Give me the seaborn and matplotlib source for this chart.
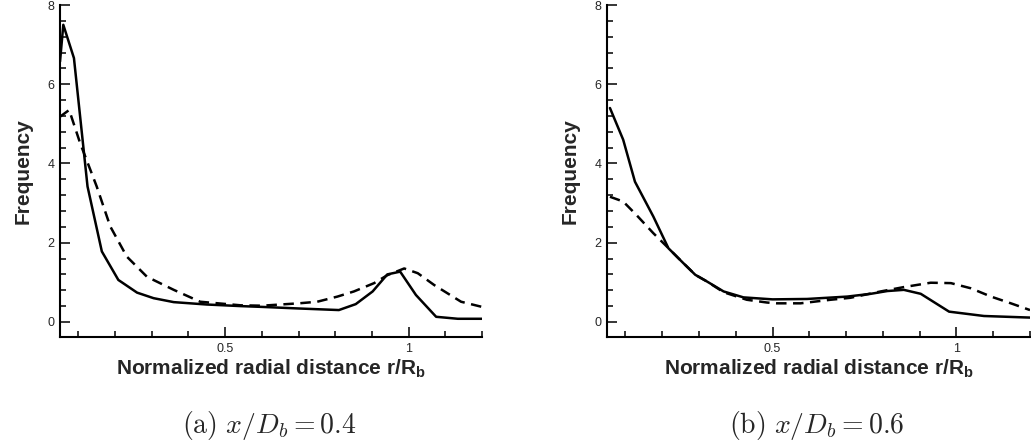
import numpy as np
import pandas as pd
import seaborn as sns
import matplotlib
matplotlib.use("Agg")
import matplotlib.pyplot as plt
from matplotlib.ticker import MultipleLocator, FixedLocator

sns.set_style("ticks")
plt.rcParams["font.family"] = ["Liberation Sans", "DejaVu Sans"]
plt.rcParams["mathtext.fontset"] = "custom"
plt.rcParams["mathtext.rm"] = "Liberation Sans"
plt.rcParams["mathtext.bf"] = "Liberation Sans:bold"

# ---- x/D_b = 0.4 ----
r_a_solid = [0.05, 0.059, 0.088, 0.125, 0.164, 0.209, 0.26, 0.305, 0.36, 0.45,
             0.542, 0.60, 0.70, 0.81, 0.856, 0.902, 0.942, 0.977, 1.02, 1.075,
             1.134, 1.2]
f_a_solid = [6.57, 7.5, 6.66, 3.42, 1.78, 1.06, 0.74, 0.60, 0.50, 0.44,
             0.40, 0.38, 0.34, 0.30, 0.45, 0.77, 1.20, 1.27, 0.68, 0.13,
             0.08, 0.08]
r_a_dash = [0.05, 0.075, 0.105, 0.15, 0.187, 0.232, 0.287, 0.36, 0.432, 0.542,
            0.60, 0.701, 0.751, 0.806, 0.851, 0.906, 0.942, 0.988, 1.025, 1.07,
            1.143, 1.2]
f_a_dash = [5.18, 5.35, 4.51, 3.42, 2.41, 1.65, 1.14, 0.81, 0.51, 0.42,
            0.41, 0.47, 0.51, 0.64, 0.77, 0.98, 1.18, 1.35, 1.23, 0.93,
            0.51, 0.38]

# ---- x/D_b = 0.6 ----
r_b_solid = [0.058, 0.094, 0.126, 0.176, 0.217, 0.258, 0.29, 0.322, 0.367, 0.421,
             0.50, 0.594, 0.703, 0.767, 0.812, 0.857, 0.903, 0.98, 1.075, 1.2]
f_b_solid = [5.40, 4.60, 3.54, 2.66, 1.86, 1.48, 1.19, 1.02, 0.77, 0.62,
             0.57, 0.58, 0.64, 0.71, 0.78, 0.81, 0.71, 0.26, 0.15, 0.11]
r_b_dash = [0.058, 0.094, 0.13, 0.176, 0.213, 0.244, 0.29, 0.322, 0.367, 0.43,
            0.485, 0.512, 0.576, 0.658, 0.712, 0.794, 0.857, 0.93, 0.985, 1.039,
            1.094, 1.148, 1.2]
f_b_dash = [3.16, 3.04, 2.70, 2.24, 1.90, 1.61, 1.19, 1.02, 0.75, 0.56,
            0.49, 0.47, 0.47, 0.56, 0.61, 0.77, 0.88, 0.99, 0.98, 0.85,
            0.64, 0.47, 0.30]

captions = [r"$\mathrm{(a)}\ x/D_b = 0.4$", r"$\mathrm{(b)}\ x/D_b = 0.6$"]
x_title = r"Normalized radial distance r/R$_\mathbf{b}$"
y_title = "Frequency"

panels = [
    (r_a_solid, f_a_solid, r_a_dash, f_a_dash),
    (r_b_solid, f_b_solid, r_b_dash, f_b_dash),
]

W, H = 1031, 444
fig = plt.figure(figsize=(W / 100, H / 100), dpi=100)
ax_left_px = [60, 607]
ax_right_px = [482, 1030]
top_px, bot_px = 5, 337

for i, (rs, fs, rd, fd) in enumerate(panels):
    ax = fig.add_axes([ax_left_px[i] / W, (H - bot_px) / H,
                       (ax_right_px[i] - ax_left_px[i]) / W, (bot_px - top_px) / H])
    df_s = pd.DataFrame({"r": rs, "f": fs})
    df_d = pd.DataFrame({"r": rd, "f": fd})
    sns.lineplot(data=df_s, x="r", y="f", ax=ax, color="black", lw=1.8,
                 sort=False, estimator=None)
    sns.lineplot(data=df_d, x="r", y="f", ax=ax, color="black", lw=1.8,
                 linestyle=(0, (4.2, 2.6)), sort=False, estimator=None)
    ax.set_xlim(0.05, 1.2)
    ax.set_ylim(-0.38, 8)
    ax.spines["top"].set_visible(False)
    ax.spines["right"].set_visible(False)
    for s in ("left", "bottom"):
        ax.spines[s].set_linewidth(1.5)
        ax.spines[s].set_color("black")
    ax.xaxis.set_major_locator(FixedLocator([0.5, 1.0]))
    ax.xaxis.set_minor_locator(MultipleLocator(0.1))
    ax.set_xticklabels(["0.5", "1"])
    ax.yaxis.set_major_locator(MultipleLocator(2))
    ax.yaxis.set_minor_locator(MultipleLocator(0.4))
    ax.tick_params(which="both", direction="in", color="black", width=1.1)
    ax.tick_params(which="major", length=7, labelsize=9, pad=4)
    ax.tick_params(which="minor", length=4)
    ax.set_xlabel(x_title, fontsize=15, fontweight="bold", labelpad=2)
    ax.set_ylabel(y_title, fontsize=15, fontweight="bold", labelpad=11)
    cx = (ax_left_px[i] + ax_right_px[i]) / 2 / W
    fig.text(cx - 0.002, 1 - 425 / H, captions[i], ha="center", va="center",
             fontsize=20, math_fontfamily="cm")

fig.savefig("out.png", dpi=100)
